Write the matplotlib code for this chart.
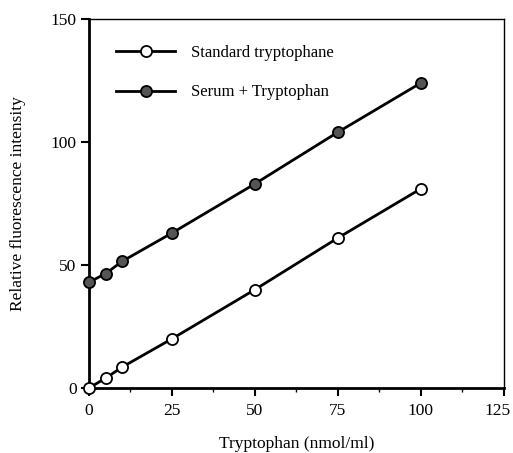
import matplotlib
matplotlib.use("Agg")
import matplotlib.pyplot as plt
import matplotlib.transforms as mtransforms
from matplotlib.ticker import MultipleLocator

plt.rcParams['font.family'] = ['Liberation Serif', 'DejaVu Serif']

conc = [0, 5, 10, 25, 50, 75, 100]
standard = [0, 4, 8.5, 20, 40, 61, 81]
serum = [43, 46.5, 51.5, 63, 83, 104, 124]
x_ticks = [0, 25, 50, 75, 100, 125]
y_ticks = [0, 50, 100, 150]

fig = plt.figure(figsize=(5.13, 4.53), dpi=100)
ax = fig.add_axes([0.1735, 0.1435, 0.8085, 0.8145])

ax.plot(conc, standard, color='black', lw=2, marker='o', ms=8,
        mfc='white', mec='black', mew=1.3, label='Standard tryptophane', clip_on=False, zorder=3)
ax.plot(conc, serum, color='black', lw=2, marker='o', ms=8,
        mfc='#555555', mec='black', mew=1.3, label='Serum + Tryptophan', clip_on=False, zorder=3)

ax.set_xlim(0, 125)
ax.set_ylim(0, 150)
ax.set_xticks(x_ticks)
ax.set_yticks(y_ticks)
ax.xaxis.set_minor_locator(MultipleLocator(12.5))
ax.tick_params(which='major', direction='out', length=6, width=1.5, labelsize=12.5)
ax.tick_params(which='minor', direction='out', length=3, width=1)
ax.tick_params(axis='x', pad=5)
ax.tick_params(axis='y', pad=3)

# keep the last x label inside the figure
last = ax.xaxis.get_major_ticks()[-1].label1
last.set_transform(last.get_transform() + mtransforms.ScaledTranslation(-6 / 100, 0, fig.dpi_scale_trans))

ax.spines['left'].set_linewidth(2)
ax.spines['bottom'].set_linewidth(2)
ax.spines['top'].set_linewidth(1)
ax.spines['right'].set_linewidth(1)

ax.set_xlabel('Tryptophan (nmol/ml)', fontsize=12.5, labelpad=12)
ax.set_ylabel('Relative fluorescence intensity', fontsize=12.5, labelpad=18)

ax.legend(loc='upper left', frameon=False, fontsize=12, handlelength=3.5,
          handletextpad=1.0, labelspacing=1.4, bbox_to_anchor=(0.03, 0.97))

fig.savefig('out.png', dpi=100)
